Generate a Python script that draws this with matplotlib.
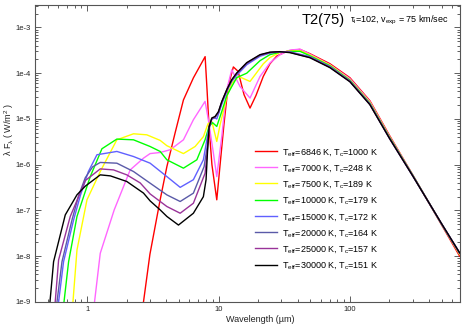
import numpy as np
import matplotlib
matplotlib.use("Agg")
import matplotlib.pyplot as plt
from matplotlib.ticker import FixedLocator, FuncFormatter, LogLocator, NullFormatter

plt.rcParams['font.family'] = ['Liberation Sans', 'DejaVu Sans']
plt.rcParams['mathtext.fontset'] = 'custom'
plt.rcParams['mathtext.rm'] = 'Liberation Sans'
plt.rcParams['mathtext.it'] = 'Liberation Sans:italic'

# wavelength (micron) and lambda*F_lambda (W/m^2)
wl_6846 = [2.68, 3.0, 3.59, 4.04, 4.67, 5.4, 6.43, 7.9, 8.17, 8.47, 8.9, 9.69, 10.27, 11.0, 11.81, 12.96,
           14.07, 15.63, 17.36, 19.28, 21.9, 24.6, 27.7, 33.0, 37.0, 41.7, 49.6, 70.5, 100, 142, 201, 301, 500, 686]
f_6846 = [1.0e-9, 1.1e-8, 1.71e-7, 9.1e-7, 5.0e-6, 2.6e-5, 7.9e-5, 2.3e-4, 4.35e-5, 6.5e-6, 1.0e-6, 1.71e-7,
          1.0e-6, 7.85e-6, 5.07e-5, 1.37e-4, 1.1e-4, 3.39e-5, 1.73e-5, 3.27e-5, 8.5e-5, 1.6e-4, 2.36e-4, 3.0e-4,
          3.2e-4, 3.3e-4, 2.67e-4, 1.61e-4, 7.97e-5, 2.5e-5, 4.29e-6, 6.0e-7, 4.8e-8, 1.0e-8]

wl_7000 = [1.136, 1.256, 1.604, 2.123, 2.68, 3.01, 3.59, 4.28, 5.4, 6.43, 7.89, 8.32, 9.13, 9.69, 10.58, 11.54,
           12.6, 14.57, 17.36, 20.7, 24.6, 29.4, 35.0, 41.7, 49.6, 70.5, 100, 142, 201, 301, 500, 686]
f_7000 = [1.0e-9, 1.16e-8, 1.03e-7, 7.7e-7, 1.39e-6, 1.75e-6, 1.85e-6, 2.12e-6, 3.5e-6, 9.6e-6, 2.42e-5, 1.05e-5,
          1.8e-6, 5.5e-7, 4.14e-6, 4.35e-5, 1.19e-4, 5.1e-5, 2.86e-5, 8.5e-5, 1.67e-4, 2.54e-4, 3.2e-4, 3.35e-4,
          2.6e-4, 1.53e-4, 7.6e-5, 2.4e-5, 4.1e-6, 6.0e-7, 5.0e-8, 1.1e-8]

wl_7500 = [0.778, 0.835, 0.995, 1.256, 1.68, 2.25, 2.84, 3.59, 4.04, 5.4, 6.63, 7.66, 8.32, 8.9, 9.69, 10.27,
           11.54, 12.6, 14.2, 17.36, 21.9, 24.6, 29.4, 35.0, 41.7, 49.6, 70.5, 100, 142, 201, 301, 500, 686]
f_7500 = [1.0e-9, 1.37e-8, 1.71e-7, 7.1e-7, 3.5e-6, 4.74e-6, 4.5e-6, 3.4e-6, 2.6e-6, 1.75e-6, 2.5e-6, 4.1e-6,
          7.9e-6, 8.7e-6, 3.22e-6, 7.5e-6, 3.0e-5, 6.0e-5, 8.5e-5, 6.6e-5, 1.6e-4, 2.2e-4, 2.85e-4, 3.05e-4,
          3.1e-4, 2.5e-4, 1.5e-4, 7.2e-5, 2.3e-5, 4.0e-6, 5.9e-7, 5.0e-8, 1.1e-8]

wl_10000 = [0.665, 0.721, 0.835, 1.054, 1.293, 1.68, 2.25, 3.01, 3.59, 4.04, 5.4, 6.83, 7.89, 8.47, 9.0, 9.69,
            10.58, 11.54, 12.6, 13.75, 16.39, 20.7, 24.6, 29.4, 35.0, 41.7, 49.6, 70.5, 100, 142, 201, 301, 500, 686]
f_10000 = [1.0e-9, 7.6e-9, 7.4e-8, 5.5e-7, 2.23e-6, 3.63e-6, 3.5e-6, 2.5e-6, 1.95e-6, 1.28e-6, 8.4e-7, 1.28e-6,
           3.5e-6, 6.9e-6, 8.3e-6, 6.85e-6, 1.46e-5, 3.2e-5, 5.1e-5, 8.0e-5, 1.0e-4, 1.88e-4, 2.54e-4, 2.88e-4,
           3.0e-4, 3.0e-4, 2.4e-4, 1.45e-4, 7.0e-5, 2.2e-5, 3.9e-6, 5.9e-7, 5.0e-8, 1.15e-8]

wl_15000 = [0.605, 0.66, 0.787, 0.885, 1.018, 1.185, 1.68, 2.25, 3.01, 4.04, 5.1, 6.43, 7.66, 8.32, 8.88, 9.4,
            9.69, 10.58, 11.54, 12.6, 13.75, 16.39, 20.7, 24.6, 29.4, 35.0, 49.6, 70.5, 100, 142, 201, 301, 500, 686]
f_15000 = [1.0e-9, 7.6e-9, 6.2e-8, 2.1e-7, 7.0e-7, 1.65e-6, 1.95e-6, 1.51e-6, 1.08e-6, 5.5e-7, 3.2e-7, 4.7e-7,
           1.28e-6, 5.0e-6, 1.0e-5, 1.05e-5, 1.0e-5, 2.1e-5, 4.0e-5, 6.6e-5, 9.0e-5, 1.53e-4, 2.35e-4, 2.75e-4,
           2.95e-4, 2.92e-4, 2.3e-4, 1.4e-4, 6.8e-5, 2.15e-5, 3.8e-6, 5.8e-7, 5.0e-8, 1.15e-8]

wl_20000 = [0.588, 0.642, 0.765, 0.859, 0.966, 1.1, 1.256, 1.68, 2.25, 3.01, 4.04, 5.1, 6.43, 7.76, 8.25, 8.47,
            8.88, 9.4, 9.97, 10.58, 11.54, 12.6, 13.75, 16.39, 20.7, 24.6, 29.4, 35.0, 49.6, 70.5, 100, 142, 201,
            301, 500, 686]
f_20000 = [1.0e-9, 7.6e-9, 6.2e-8, 2.1e-7, 5.2e-7, 9.0e-7, 1.12e-6, 1.08e-6, 7.1e-7, 3.95e-7, 2.19e-7, 1.57e-7,
           2.39e-7, 9.1e-7, 2.8e-6, 6.6e-6, 1.0e-5, 1.08e-5, 1.35e-5, 2.3e-5, 4.2e-5, 7.0e-5, 9.7e-5, 1.63e-4,
           2.45e-4, 2.8e-4, 2.95e-4, 2.88e-4, 2.25e-4, 1.36e-4, 6.65e-5, 2.1e-5, 3.7e-6, 5.7e-7, 5.1e-8, 1.18e-8]

wl_25000 = [0.57, 0.605, 0.742, 0.859, 0.966, 1.256, 1.585, 2.0, 2.53, 3.01, 4.04, 5.1, 6.43, 7.89, 8.25, 8.47,
            8.88, 9.4, 9.97, 10.58, 11.54, 12.6, 13.75, 16.39, 20.7, 24.6, 29.4, 35.0, 49.6, 70.5, 100, 142, 201,
            301, 500, 686]
f_25000 = [1.0e-9, 8.3e-9, 7.4e-8, 2.0e-7, 4.5e-7, 8.1e-7, 7.7e-7, 6.0e-7, 4.0e-7, 2.3e-7, 1.22e-7, 8.7e-8,
           1.44e-7, 6.5e-7, 2.3e-6, 6.5e-6, 1.02e-5, 1.1e-5, 1.4e-5, 2.35e-5, 4.3e-5, 7.1e-5, 1.0e-4, 1.67e-4,
           2.5e-4, 2.85e-4, 2.95e-4, 2.85e-4, 2.2e-4, 1.34e-4, 6.6e-5, 2.07e-5, 3.7e-6, 5.7e-7, 5.1e-8, 1.18e-8]

wl_30000 = [0.52, 0.554, 0.68, 0.835, 0.966, 1.256, 1.5, 2.0, 2.68, 3.01, 3.59, 4.04, 4.95, 6.43, 7.66, 8.03,
            8.25, 8.47, 8.88, 9.4, 9.97, 10.58, 11.54, 12.6, 13.75, 16.39, 20.7, 24.6, 29.4, 35.0, 49.6, 70.5, 100,
            142, 201, 301, 500, 686]
f_30000 = [1.0e-9, 7.6e-9, 8.0e-8, 2.2e-7, 3.4e-7, 6.0e-7, 5.7e-7, 4.3e-7, 2.4e-7, 1.62e-7, 1.03e-7, 7.4e-8,
           4.8e-8, 8.7e-8, 2.0e-7, 4.7e-7, 2.12e-6, 6.7e-6, 1.05e-5, 1.13e-5, 1.44e-5, 2.4e-5, 4.35e-5, 7.2e-5,
           1.01e-4, 1.7e-4, 2.54e-4, 2.88e-4, 2.95e-4, 2.81e-4, 2.18e-4, 1.32e-4, 6.5e-5, 2.05e-5, 3.7e-6, 5.7e-7,
           5.1e-8, 1.18e-8]

t_eff = [6846, 7000, 7500, 10000, 15000, 20000, 25000, 30000]
t_c = [1000, 248, 189, 179, 172, 164, 157, 151]
colors = ['#ff0000', '#ff66ff', '#ffff00', '#00ff00', '#6060ff', '#5a5aa8', '#993399', '#000000']

series = [(wl_6846, f_6846), (wl_7000, f_7000), (wl_7500, f_7500), (wl_10000, f_10000),
          (wl_15000, f_15000), (wl_20000, f_20000), (wl_25000, f_25000), (wl_30000, f_30000)]

fig = plt.figure(figsize=(4.63, 3.25), dpi=100)
ax = fig.add_axes([0.0756, 0.0708, 0.918, 0.914])

for (wl, f), te, tc, c in zip(series, t_eff, t_c, colors):
    ax.plot(wl, f, color=c, lw=1.0,
            label=r"T$_{\rm eff}$=%d K, T$_{\rm c}$=%d K" % (te, tc))

ax.set_xscale('log')
ax.set_yscale('log')
ax.set_xlim(0.4, 690)
ax.set_ylim(1e-9, 3.1e-3)

ax.yaxis.set_major_locator(FixedLocator([1e-9, 1e-8, 1e-7, 1e-6, 1e-5, 1e-4, 1e-3]))
ax.yaxis.set_major_formatter(FuncFormatter(lambda v, p: "1e%d" % round(np.log10(v))))
ax.yaxis.set_minor_locator(LogLocator(base=10, subs=np.arange(2, 10), numticks=20))
ax.yaxis.set_minor_formatter(NullFormatter())
ax.xaxis.set_major_locator(FixedLocator([1, 10, 100]))
ax.xaxis.set_major_formatter(FuncFormatter(lambda v, p: "%d" % v))
ax.xaxis.set_minor_locator(LogLocator(base=10, subs=np.arange(2, 10), numticks=20))
ax.xaxis.set_minor_formatter(NullFormatter())

ax.tick_params(which='both', direction='in', top=True, right=True, colors='#444444',
               labelsize=5.5, labelcolor='#222222', width=0.6)
ax.tick_params(which='major', length=4, pad=3)
ax.tick_params(which='minor', length=2)
for s in ax.spines.values():
    s.set_color('#555555')
    s.set_linewidth(0.8)

ax.set_xlabel("Wavelength (µm)", fontsize=6.5, color='#222222')
ax.xaxis.set_label_coords(0.53, -0.045)
ax.set_ylabel(r"λ F$_{\rm λ}$ ( W/m$^2$ )", fontsize=6.5, color='#222222')
ax.yaxis.set_label_coords(-0.045, 0.58)

ax.text(0.628, 0.95, "T2(75)", transform=ax.transAxes, fontsize=10.5, va='center', ha='left')
ax.text(0.742, 0.947, r"τ$_{\rm i}$=102, v$_{\rm exp}$ = 75 km/sec", transform=ax.transAxes,
        fontsize=6.5, va='center', ha='left')

ax.legend(loc='upper left', bbox_to_anchor=(0.51, 0.535), frameon=False, fontsize=6.5,
          handlelength=2.4, handletextpad=0.55, labelspacing=0.58, borderaxespad=0)

fig.savefig("out.png", dpi=100)
